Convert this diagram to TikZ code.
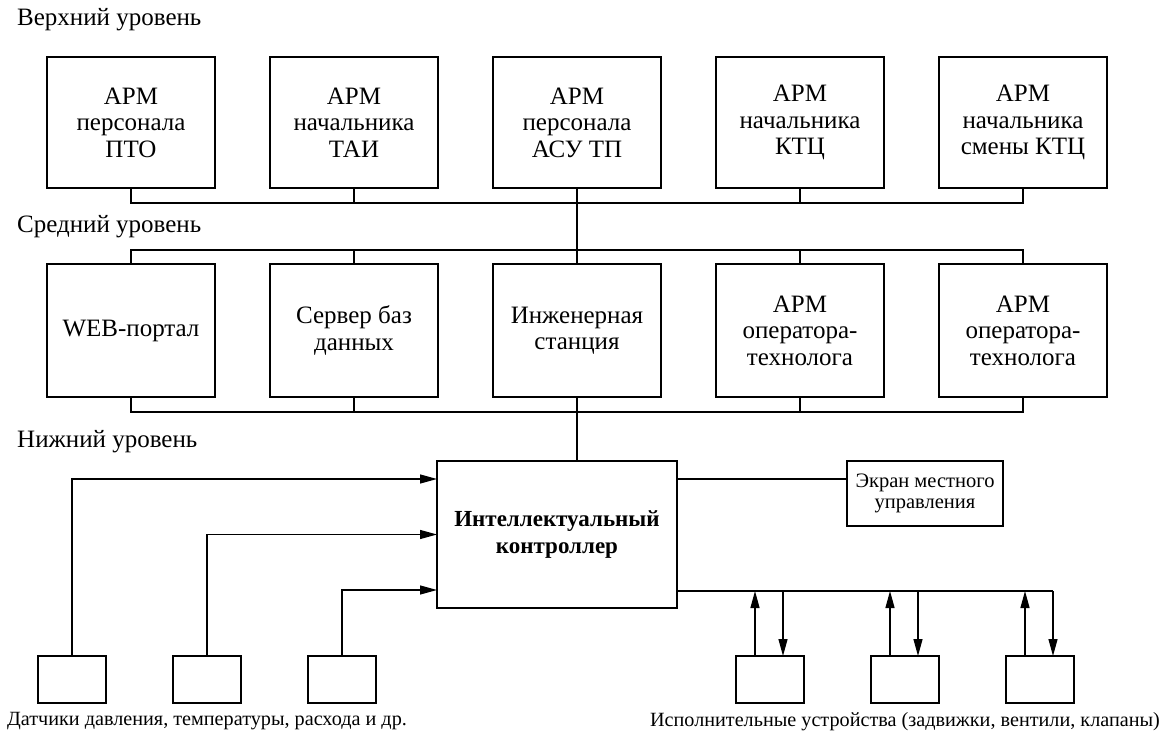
\documentclass[tikz,border=0pt]{standalone}
\usepackage{fontspec}
\setmainfont{Liberation Serif}
\usetikzlibrary{arrows.meta,positioning}

\begin{document}
\begin{tikzpicture}[x=1pt, y=-1pt,
      box/.style={draw, line width=1.3pt, inner sep=0pt, outer sep=0pt, align=center, font=\fontsize{25}{26.5}\selectfont},
      arm/.style={box, minimum width=168pt, minimum height=131pt},
      mid/.style={box, minimum width=168pt, minimum height=133pt},
      dev/.style={draw, line width=1.3pt, outer sep=0pt, minimum width=68pt, minimum height=47pt},
      lvl/.style={anchor=west, inner sep=0pt, font=\fontsize{25}{27}\selectfont},
      lbl/.style={inner sep=0pt, font=\fontsize{20.2}{21}\selectfont},
      wire/.style={line width=1.3pt},
      arr/.style={wire, -{Triangle[length=17pt, width=9pt]}},
    ]
    \useasboundingbox (0,0) rectangle (1168,735);

    % уровни
    \node[lvl] (top) at (17,20) {Верхний уровень};
    \node[lvl] (middle) at (17,227) {Средний уровень};
    \node[lvl] (bottom) at (17,442) {Нижний уровень};

    % верхний уровень
    \node[arm] (t1) at (131,122.5) {АРМ\\персонала\\ПТО};
    \node[arm, right=55pt of t1] (t2) {АРМ\\начальника\\ТАИ};
    \node[arm, right=55pt of t2] (t3) {АРМ\\персонала\\АСУ ТП};
    \node[arm, right=55pt of t3] (t4) {АРМ\\начальника\\КТЦ};
    \node[arm, right=55pt of t4] (t5) {АРМ\\начальника\\смены КТЦ};

    % средний уровень
    \node[mid, below=76pt of t1] (m1) {WEB-портал};
    \node[mid, right=55pt of m1] (m2) {Сервер баз\\данных};
    \node[mid, right=55pt of m2] (m3) {Инженерная\\станция};
    \node[mid, right=55pt of m3] (m4) {АРМ\\оператора-\\технолога};
    \node[mid, right=55pt of m4] (m5) {АРМ\\оператора-\\технолога};

    % нижний уровень
    \node[box, font=\fontsize{23}{27}\selectfont\bfseries, minimum width=240pt, minimum height=147pt] (ctrl) at (557,534.5) {Интеллектуальный\\контроллер};
    \node[box, font=\fontsize{20.5}{21}\selectfont, minimum width=156pt, minimum height=65pt, anchor=north west] (scr) at ([xshift=170pt]ctrl.north east) {Экран местного\\управления};

    \node[dev] (s1) at (72,679.5) {};
    \node[dev, right=67pt of s1] (s2) {};
    \node[dev, right=67pt of s2] (s3) {};
    \node[dev] (a1) at (770,679.5) {};
    \node[dev, right=67pt of a1] (a2) {};
    \node[dev, right=67pt of a2] (a3) {};

    \node[lbl, below=9pt of s2] (senslbl) {Датчики давления, температуры, расхода и др.};
    \node[lbl, below=9pt of a2] (actlbl) {Исполнительные устройства (задвижки, вентили, клапаны)};

    % шины
    \coordinate (topbus) at (0,203);
    \coordinate (midbus) at (0,250);
    \coordinate (lowbus) at (0,412);
    \draw[wire] (t1.south) |- (t5.south |- topbus) -- (t5.south);
    \draw[wire] (m1.north) |- (m5.north |- midbus) -- (m5.north);
    \draw[wire] (m1.south) |- (m5.south |- lowbus) -- (m5.south);
    \foreach \i in {2,3,4} {
      \draw[wire] (t\i.south) -- (t\i.south |- topbus);
      \draw[wire] (m\i.north) -- (m\i.north |- midbus);
      \draw[wire] (m\i.south) -- (m\i.south |- lowbus);
    }
    \draw[wire] (t3.south |- topbus) -- (m3.north |- midbus);
    \draw[wire] (m3.south |- lowbus) -- (m3.south |- ctrl.north);

    % экран
    \coordinate (scrin) at ([yshift=-18pt]ctrl.north east);
    \draw[wire] (scrin) -- (scrin -| scr.west);

    % датчики
    \draw[arr] (s1.north) |- ([yshift=-18pt]ctrl.north west);
    \draw[arr] (s2.north) |- (ctrl.west);
    \draw[arr] (s3.north) |- ([yshift=18pt]ctrl.south west);

    % исполнительные устройства
    \coordinate (actbus) at ([yshift=17pt]ctrl.south east);
    \foreach \i in {1,2,3} {
      \coordinate (u\i) at ([xshift=-15pt]a\i.north);
      \coordinate (d\i) at ([xshift=13pt]a\i.north);
      \draw[arr] (u\i) -- (u\i |- actbus);
      \draw[arr] (d\i |- actbus) -- (d\i);
    }
    \draw[wire] (actbus) -- (d3 |- actbus);
\end{tikzpicture}
\end{document}
